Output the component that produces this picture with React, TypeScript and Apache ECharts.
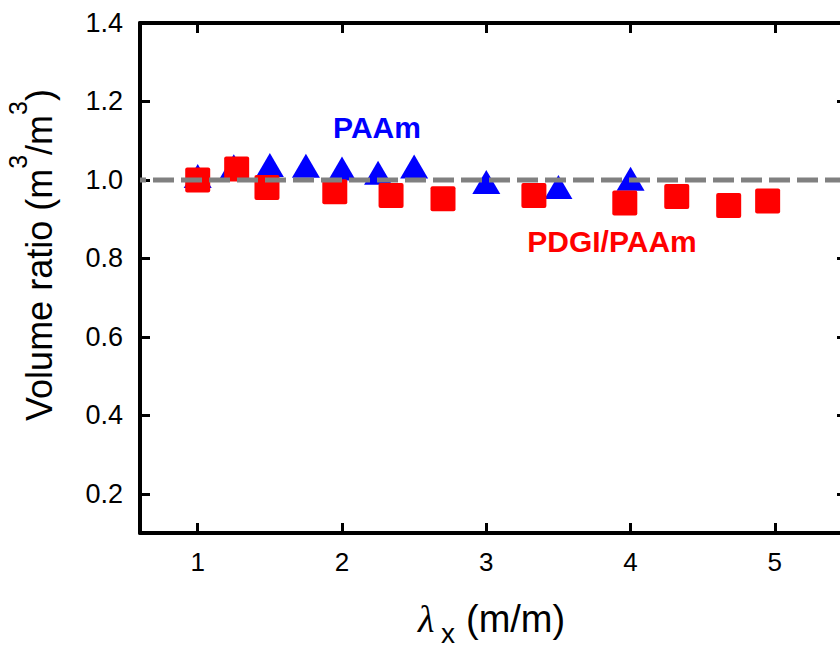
import React, { useEffect, useRef } from "react";
import * as echarts from "echarts";

// ---- data ----
const xTicks = [1, 2, 3, 4, 5];
const yTicks = [0.2, 0.4, 0.6, 0.8, 1.0, 1.2, 1.4];
const xRange = [0.6, 5.5];
const yRange = [0.1, 1.4];

const paamX = [1.0, 1.25, 1.5, 1.75, 2.0, 2.25, 2.5, 3.0, 3.5, 4.0];
const paamY = [1.01, 1.035, 1.038, 1.036, 1.029, 1.018, 1.034, 0.995, 0.982, 1.003];

const pdgiX = [1.0, 1.27, 1.48, 1.95, 2.34, 2.7, 3.33, 3.96, 4.32, 4.68, 4.95];
const pdgiY = [1.0, 1.028, 0.981, 0.97, 0.96, 0.952, 0.96, 0.941, 0.958, 0.935, 0.946];

const refValue = 1.0;

const FONT = "'Liberation Sans', Arial, Helvetica, sans-serif";
const SQUARE =
  "path://M2,0H23A2,2 0 0 1 25,2V23A2,2 0 0 1 23,25H2A2,2 0 0 1 0,23V2A2,2 0 0 1 2,0Z";

// y-axis title pieces: [text, isSuperscript]
const yTitleParts: [string, boolean][] = [
  ["Volume ratio (m", false],
  ["3", true],
  ["/m", false],
  ["3", true],
  [")", false],
];

function measure(text: string, font: string): number {
  const c = document.createElement("canvas").getContext("2d");
  if (!c) return text.length * 18;
  c.font = font;
  return c.measureText(text).width;
}

export default function App() {
  const ref = useRef<HTMLDivElement>(null);
  useEffect(() => {
    if (!ref.current) return;
    const chart = echarts.init(ref.current, undefined, { renderer: "svg" });
    const axisLine = { show: true, lineStyle: { color: "#000", width: 4 } };
    const tickStyle = { color: "#000", width: 3 };

    const mainFont = `36px ${FONT}`;
    const supFont = `25px ${FONT}`;
    const widths = yTitleParts.map(([t, s]) => measure(t, s ? supFont : mainFont));
    const total = widths.reduce((a, b) => a + b, 0);
    let cx = -total / 2;
    const yTitleChildren = yTitleParts.map(([t, s], i) => {
      const el = {
        type: "text",
        x: cx,
        y: s ? -21 : 0,
        style: {
          text: t,
          font: s ? supFont : mainFont,
          fill: "#000",
          align: "left",
          verticalAlign: "middle",
        },
      };
      cx += widths[i];
      return el;
    });

    chart.setOption({
      animation: false,
      backgroundColor: "#fff",
      grid: {
        left: 140,
        top: 23,
        right: -7,
        bottom: 115,
        containLabel: false,
        outerBoundsMode: "none",
      },
      xAxis: [
        {
          type: "value",
          min: xRange[0],
          max: xRange[1],
          position: "bottom",
          axisLine,
          splitLine: { show: false },
          axisTick: { show: true, inside: true, length: 10, lineStyle: tickStyle, customValues: xTicks },
          axisLabel: {
            show: true,
            customValues: xTicks,
            fontFamily: FONT,
            fontSize: 26,
            color: "#000",
            margin: 16,
          },
        },
        {
          type: "value",
          min: xRange[0],
          max: xRange[1],
          position: "top",
          axisLine,
          splitLine: { show: false },
          axisTick: { show: true, inside: true, length: 10, lineStyle: tickStyle, customValues: xTicks },
          axisLabel: { show: false },
        },
      ],
      yAxis: [
        {
          type: "value",
          min: yRange[0],
          max: yRange[1],
          position: "left",
          axisLine,
          splitLine: { show: false },
          axisTick: { show: true, inside: true, length: 10, lineStyle: tickStyle, customValues: yTicks },
          axisLabel: {
            show: true,
            customValues: yTicks,
            formatter: (v: number) => v.toFixed(1),
            fontFamily: FONT,
            fontSize: 27,
            color: "#000",
            margin: 17,
          },
        },
        {
          type: "value",
          min: yRange[0],
          max: yRange[1],
          position: "right",
          axisLine,
          splitLine: { show: false },
          axisTick: { show: true, inside: true, length: 10, lineStyle: tickStyle, customValues: yTicks },
          axisLabel: { show: false },
        },
      ],
      series: [
        {
          name: "PAAm",
          type: "scatter",
          symbol: "triangle",
          symbolSize: [28, 24],
          itemStyle: { color: "#0000ff", opacity: 1 },
          data: paamX.map((x, i) => [x, paamY[i]]),
          z: 2,
        },
        {
          name: "PDGI/PAAm",
          type: "scatter",
          symbol: SQUARE,
          symbolSize: 25,
          itemStyle: { color: "#ff0000", opacity: 1 },
          data: pdgiX.map((x, i) => [x, pdgiY[i]]),
          z: 3,
        },
        {
          name: "ref",
          type: "line",
          symbol: "none",
          data: [
            [xRange[0], refValue],
            [xRange[1], refValue],
          ],
          lineStyle: { color: "#808080", width: 5, type: [21, 7], dashOffset: 15 },
          z: 4,
        },
      ],
      graphic: [
        {
          type: "group",
          x: 39,
          y: 255,
          rotation: Math.PI / 2,
          children: yTitleChildren,
        },
        {
          type: "text",
          x: 418,
          y: 619,
          style: {
            text: "λ",
            font: `italic 38px 'Liberation Serif', 'Times New Roman', serif`,
            fill: "#000",
            align: "left",
            verticalAlign: "middle",
          },
        },
        {
          type: "text",
          x: 441,
          y: 633,
          style: {
            text: "x",
            font: `28px ${FONT}`,
            fill: "#000",
            align: "left",
            verticalAlign: "middle",
          },
        },
        {
          type: "text",
          x: 466,
          y: 619,
          style: {
            text: "(m/m)",
            font: `38px ${FONT}`,
            fill: "#000",
            align: "left",
            verticalAlign: "middle",
          },
        },
        {
          type: "text",
          x: 377,
          y: 127,
          style: {
            text: "PAAm",
            font: `bold 30px ${FONT}`,
            fill: "#0000ff",
            align: "center",
            verticalAlign: "middle",
          },
        },
        {
          type: "text",
          x: 612,
          y: 241,
          style: {
            text: "PDGI/PAAm",
            font: `bold 30px ${FONT}`,
            fill: "#ff0000",
            align: "center",
            verticalAlign: "middle",
          },
        },
      ],
    });
    return () => chart.dispose();
  }, []);
  return (
    <div
      ref={ref}
      style={{ position: "absolute", left: 0, top: 0, width: 840, height: 648 }}
    />
  );
}
